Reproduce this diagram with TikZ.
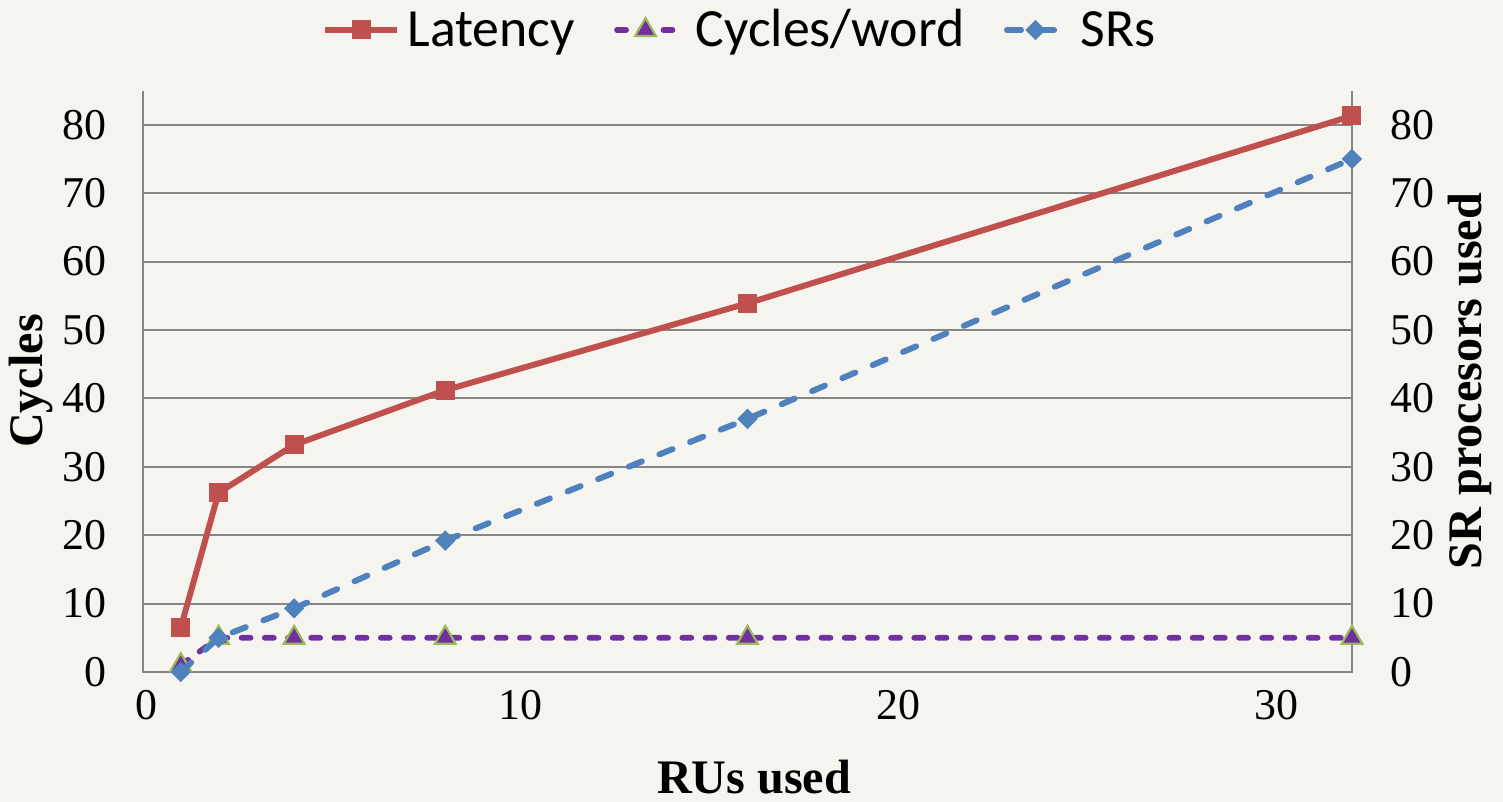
\documentclass[tikz,border=0pt]{standalone}
\usepackage{fontspec}
\setmainfont{Liberation Serif}
\newfontfamily\legendfont{Carlito}
\usetikzlibrary{positioning,shapes.geometric}

\definecolor{latred}{RGB}{192,80,77}
\definecolor{srblue}{RGB}{79,129,189}
\definecolor{cwpurple}{RGB}{112,48,160}
\definecolor{cwgreen}{RGB}{155,187,89}
\definecolor{gridgray}{RGB}{134,134,134}
\definecolor{paper}{RGB}{246,244,239}

\tikzset{
	gridline/.style = { gridgray, line width = 0.6pt },
	axisline/.style = { gridgray, line width = 0.6pt },
	ticklabel/.style = { inner sep = 0pt, font = \fontsize{12.5}{14}\selectfont },
	axistitle/.style = { inner sep = 0pt, font = \fontsize{13.7}{16}\selectfont\bfseries },
	legendtext/.style = { inner sep = 0pt, anchor = base west, font = \legendfont\fontsize{15.3}{18}\selectfont },
	latline/.style = { latred, line width = 1.7pt },
	cwline/.style = { cwpurple, line width = 1.6pt, line cap = round, dash pattern = on 2.6pt off 4.0pt },
	srline/.style = { srblue, line width = 1.7pt, line cap = round, dash pattern = on 4.0pt off 5.4pt },
	latmark/.style = { rectangle, fill = latred, minimum size = 0.19cm, inner sep = 0pt },
	cwmark/.style = { regular polygon, regular polygon sides = 3, fill = cwpurple, draw = cwgreen, line width = 0.6pt, minimum size = 0.24cm, inner sep = 0pt },
	srmark/.style = { diamond, aspect = 1, fill = srblue, minimum size = 0.21cm, inner sep = 0pt }
}

\begin{document}
\begin{tikzpicture}
	\useasboundingbox [fill = paper] ( 0, 0 ) rectangle ( 15.03, 8.02 );

	\begin{scope}[shift = { ( 1.43, 1.30 ) }, x = 0.3778cm, y = 0.0684cm]
		% сетка
		\draw [gridline] ( 0, 10 ) -- ( 32, 10 );
		\draw [gridline] ( 0, 20 ) -- ( 32, 20 );
		\draw [gridline] ( 0, 30 ) -- ( 32, 30 );
		\draw [gridline] ( 0, 40 ) -- ( 32, 40 );
		\draw [gridline] ( 0, 50 ) -- ( 32, 50 );
		\draw [gridline] ( 0, 60 ) -- ( 32, 60 );
		\draw [gridline] ( 0, 70 ) -- ( 32, 70 );
		\draw [gridline] ( 0, 80 ) -- ( 32, 80 );

		% оси
		\draw [axisline] ( 0, 85 ) -- ( 0, 0 ) -- ( 32, 0 ) -- ( 32, 85 );

		% подписи левой оси
		\node [ticklabel, anchor = east] (yl0) at ( -0.95, 0 ) {0};
		\node [ticklabel, anchor = east] (yl10) at ( -0.95, 10 ) {10};
		\node [ticklabel, anchor = east] (yl20) at ( -0.95, 20 ) {20};
		\node [ticklabel, anchor = east] (yl30) at ( -0.95, 30 ) {30};
		\node [ticklabel, anchor = east] (yl40) at ( -0.95, 40 ) {40};
		\node [ticklabel, anchor = east] (yl50) at ( -0.95, 50 ) {50};
		\node [ticklabel, anchor = east] (yl60) at ( -0.95, 60 ) {60};
		\node [ticklabel, anchor = east] (yl70) at ( -0.95, 70 ) {70};
		\node [ticklabel, anchor = east] (yl80) at ( -0.95, 80 ) {80};

		% подписи правой оси
		\node [ticklabel, anchor = west] (yr0) at ( 33.0, 0 ) {0};
		\node [ticklabel, anchor = west] (yr10) at ( 33.0, 10 ) {10};
		\node [ticklabel, anchor = west] (yr20) at ( 33.0, 20 ) {20};
		\node [ticklabel, anchor = west] (yr30) at ( 33.0, 30 ) {30};
		\node [ticklabel, anchor = west] (yr40) at ( 33.0, 40 ) {40};
		\node [ticklabel, anchor = west] (yr50) at ( 33.0, 50 ) {50};
		\node [ticklabel, anchor = west] (yr60) at ( 33.0, 60 ) {60};
		\node [ticklabel, anchor = west] (yr70) at ( 33.0, 70 ) {70};
		\node [ticklabel, anchor = west] (yr80) at ( 33.0, 80 ) {80};

		% подписи нижней оси
		\node [ticklabel, anchor = north] (xl0) at ( 0.08, -2.6 ) {0};
		\node [ticklabel, anchor = north] (xl10) at ( 10, -2.6 ) {10};
		\node [ticklabel, anchor = north] (xl20) at ( 20, -2.6 ) {20};
		\node [ticklabel, anchor = north] (xl30) at ( 30, -2.6 ) {30};

		% точки
		\coordinate (lat1) at ( 1, 6.5 );
		\coordinate (lat2) at ( 2, 26.2 );
		\coordinate (lat3) at ( 4, 33.2 );
		\coordinate (lat4) at ( 8, 41.2 );
		\coordinate (lat5) at ( 16, 53.9 );
		\coordinate (lat6) at ( 32, 81.3 );
		\coordinate (cw1) at ( 1, 1 );
		\coordinate (cw2) at ( 2, 5 );
		\coordinate (cw3) at ( 4, 5 );
		\coordinate (cw4) at ( 8, 5 );
		\coordinate (cw5) at ( 16, 5 );
		\coordinate (cw6) at ( 32, 5 );
		\coordinate (sr1) at ( 1, 0 );
		\coordinate (sr2) at ( 2, 5 );
		\coordinate (sr3) at ( 4, 9.3 );
		\coordinate (sr4) at ( 8, 19.2 );
		\coordinate (sr5) at ( 16, 37 );
		\coordinate (sr6) at ( 32, 75 );

		% Latency
		\draw [latline] (lat1) -- (lat2) -- (lat3) -- (lat4) -- (lat5) -- (lat6);
		\node [latmark] (latm1) at (lat1) {};
		\node [latmark] (latm2) at (lat2) {};
		\node [latmark] (latm3) at (lat3) {};
		\node [latmark] (latm4) at (lat4) {};
		\node [latmark] (latm5) at (lat5) {};
		\node [latmark] (latm6) at (lat6) {};

		% Cycles/word
		\draw [cwline] (cw1) -- (cw2) -- (cw3) -- (cw4) -- (cw5) -- (cw6);
		\node [cwmark] (cwm1) at (cw1) {};
		\node [cwmark] (cwm2) at (cw2) {};
		\node [cwmark] (cwm3) at (cw3) {};
		\node [cwmark] (cwm4) at (cw4) {};
		\node [cwmark] (cwm5) at (cw5) {};
		\node [cwmark] (cwm6) at (cw6) {};

		% SRs
		\draw [srline] (sr1) -- (sr2) -- (sr3) -- (sr4) -- (sr5) -- (sr6);
		\node [srmark] (srm1) at (sr1) {};
		\node [srmark] (srm2) at (sr2) {};
		\node [srmark] (srm3) at (sr3) {};
		\node [srmark] (srm4) at (sr4) {};
		\node [srmark] (srm5) at (sr5) {};
		\node [srmark] (srm6) at (sr6) {};
	\end{scope}

	% названия осей
	\node [axistitle, rotate = 90] (ytitle) at ( 0.31, 4.21 ) {Cycles};
	\node [axistitle, rotate = 90] (y2title) at ( 14.70, 4.21 ) {SR procesors used};
	\node [axistitle, anchor = base] (xtitle) at ( 7.54, 0.08 ) {RUs used};

	% легенда
	\coordinate (latkeyA) at ( 3.25, 7.72 );
	\coordinate (latkeyB) at ( 3.97, 7.72 );
	\draw [latline] (latkeyA) -- (latkeyB);
	\node [latmark] (latkeym) at ( 3.61, 7.72 ) {};
	\node [legendtext] (latkey) at ( 4.07, 7.55 ) {Latency};

	\coordinate (cwkeyA) at ( 6.17, 7.72 );
	\coordinate (cwkeyB) at ( 6.74, 7.72 );
	\draw [cwline] (cwkeyA) -- (cwkeyB);
	\node [cwmark] (cwkeym) at ( 6.455, 7.72 ) {};
	\node [legendtext] (cwkey) at ( 6.95, 7.55 ) {Cycles/word};

	\coordinate (srkeyA) at ( 10.07, 7.72 );
	\coordinate (srkeyB) at ( 10.64, 7.72 );
	\draw [srline] (srkeyA) -- (srkeyB);
	\node [srmark] (srkeym) at ( 10.355, 7.72 ) {};
	\node [legendtext] (srkey) at ( 10.80, 7.55 ) {SRs};
\end{tikzpicture}
\end{document}
